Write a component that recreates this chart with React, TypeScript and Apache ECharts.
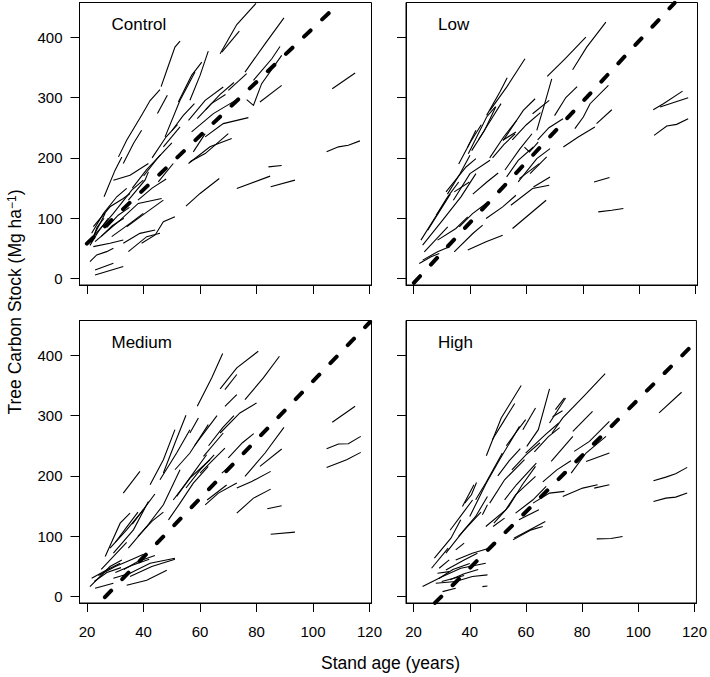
import React, { useEffect, useRef } from "react";
import * as echarts from "echarts";

const FONT = '"Liberation Sans", Arial, Helvetica, sans-serif';

const ageTicks = [20, 40, 60, 80, 100, 120];
const carbonTicks = [0, 100, 200, 300, 400];
const panelNames = ["Control", "Low", "Medium", "High"];
const xTitle = "Stand age (years)";

// each stand: [age (years), tree carbon stock (Mg ha-1)] re-measurements
const controlStands: number[][][] = [
  [[67.1, 372.5], [73.0, 421], [79.8, 456]],
  [[75.9, 342.2], [83.0, 389], [89.7, 432]],
  [[70.0, 311.9], [76.5, 339.5]],
  [[78.9, 328.5], [85.4, 364.3], [88.3, 384.7]],
  [[76.5, 296.5], [78.9, 287.1], [81.8, 323], [88.9, 369.8]],
  [[81.2, 292.6], [88.9, 320.2]],
  [[67.7, 375.3], [73.9, 410]],
  [[56.4, 295.4], [60.0, 336.7], [62.9, 377]],
  [[52.3, 292.6], [57.0, 336.7], [60.6, 358.8]],
  [[47.6, 234.8], [52.9, 295.4], [58.2, 342.2]],
  [[55.9, 262.3], [61.8, 295.4], [68.2, 317.4]],
  [[57.0, 243.1], [64.7, 273.4], [73.6, 298.2]],
  [[61.8, 234.8], [68.2, 256.8], [77.1, 266.7]],
  [[55.9, 190.7], [63.5, 218.3], [71.2, 232]],
  [[57.6, 210], [61.8, 240.3]],
  [[106.8, 314.7], [114.9, 340.6]],
  [[104.8, 210], [109.0, 218.3], [112.5, 221], [116.6, 228.2]],
  [[84.2, 185.2], [88.9, 187.4]],
  [[73.0, 149.4], [84.8, 169.8]],
  [[85.0, 152.1], [93.6, 163.2]],
  [[55.0, 120.2], [60.0, 141.1], [66.8, 165.9]],
  [[44.9, 273.4], [48.4, 303.7]],
  [[31.1, 201.7], [34.0, 229.3], [39.3, 270.6], [42.3, 295], [45.8, 313]],
  [[46.2, 318], [48.4, 347.7], [51.1, 383.6], [52.9, 393.5]],
  [[32.8, 190.7], [36.4, 223.8], [39.3, 245.8]],
  [[26.0, 135.6], [29.9, 179.7], [32.3, 201.7]],
  [[47.0, 218.3], [52.9, 251.3]],
  [[29.3, 163], [35.2, 171.4], [41.7, 190.7]],
  [[22.2, 86], [28.1, 119], [32.8, 132.8], [35.2, 141.1]],
  [[21.6, 75], [25.8, 108.1], [30.5, 135.6], [34.0, 149.4]],
  [[22.2, 69.5], [29.3, 108], [35.8, 146.6], [39.9, 163.2]],
  [[22.8, 61.2], [31.7, 97], [38.1, 124.6], [46.4, 132.8]],
  [[34.0, 86], [40.5, 108.1], [47.0, 130.1]],
  [[32.8, 58.5], [38.7, 75], [44.1, 80.5]],
  [[34.6, 44.7], [41.1, 69.5], [45.8, 75]],
  [[39.3, 58.5], [44.1, 72.3], [47.0, 94.3], [51.1, 102.5]],
  [[21.0, 28.2], [23.4, 39.2], [26.9, 44.7], [29.3, 50.2]],
  [[22.8, 14.4], [29.3, 25.4]],
  [[22.8, 6.1], [32.8, 19.9]],
  [[22.2, 53], [28.1, 58.5], [32.8, 63.9]],
  [[28.7, 69.5], [35.2, 91.5], [39.9, 108.1]],
  [[34.6, 130.1], [40.5, 163.2], [41.7, 176.9]],
  [[56.4, 193.5], [61.8, 207.2], [70.0, 240.3]],
  [[21.0, 55], [24.0, 78], [27.5, 100]],
  [[21.5, 60], [23.5, 85], [26.0, 100]],
  [[21.6, 64], [26.4, 108.1]],
  [[45.2, 160.4], [50.5, 190.7]],
  [[36.0, 150], [41.0, 180], [46.0, 205]],
  [[40.0, 170], [45.0, 200], [50.0, 225]],
  [[43.0, 200], [48.0, 235], [52.0, 255]],
  [[50.0, 245], [54.0, 270], [58.0, 290]],
  [[59.0, 265], [64.0, 290], [69.0, 305]],
  [[62.0, 280], [67.0, 305], [72.0, 325]],
  [[38.0, 130], [43.0, 150], [48.0, 165]],
  [[27.0, 85], [31.0, 105], [35.0, 118]],
  [[25.0, 70], [29.0, 88], [33.0, 100]],
];

const lowStands: number[][][] = [
  [[76.4, 346], [81.4, 383.5], [88.2, 424.9]],
  [[67.4, 335], [73.7, 364.2], [81.1, 400]],
  [[47.1, 278.7], [53.0, 317.3], [59.5, 364.2]],
  [[45.9, 270.5], [50.6, 309.1], [53.2, 332.8]],
  [[39.4, 207], [45.9, 267.8], [48.9, 284.3]],
  [[51.8, 229.1], [58.9, 278.7], [63.1, 298]],
  [[63.7, 245.7], [66.5, 290], [69.0, 331]],
  [[77.2, 248.4], [80.2, 267.7], [82.6, 289.8], [89.1, 320.1]],
  [[84.9, 256.7], [90.3, 279.8]],
  [[73.1, 218], [78.4, 234.6], [84.3, 251.2]],
  [[62.5, 151.9], [68.4, 168.5]],
  [[54.5, 121.6], [62.2, 149.2], [68.1, 154.7]],
  [[55.1, 83], [67.0, 129.9]],
  [[39.2, 47.2], [45.7, 61], [51.6, 72]],
  [[84.0, 160.2], [89.5, 167.4]],
  [[85.5, 110.6], [90.3, 113.3], [94.4, 116.1]],
  [[105.0, 279.8], [108.6, 289.8], [115.4, 310.7]],
  [[107.4, 284.3], [117.4, 299.7]],
  [[105.3, 237.4], [109.8, 252.8], [113.3, 255.6], [117.4, 264.9]],
  [[22.6, 63.7], [27.0, 96.8], [31.5, 129.9]],
  [[32.0, 140], [36.5, 174], [40.0, 204.3]],
  [[40.6, 212], [45.1, 245], [49.2, 285]],
  [[23.2, 55.4], [30.3, 96.8], [36.8, 135.4], [42.1, 174]],
  [[23.8, 44.4], [32.1, 85.7]],
  [[31.5, 143.7], [38.6, 185], [42.1, 198.8]],
  [[34.4, 143.7], [39.8, 160.2]],
  [[36.2, 85.7], [40.9, 107.8], [45.7, 124.4]],
  [[34.4, 44.4], [41.0, 74.7], [44.5, 88.5]],
  [[28.5, 63.7], [35.0, 83], [39.2, 102.3]],
  [[45.7, 99.5], [51.6, 118.9], [56.3, 138.1]],
  [[57.5, 165.7], [64.6, 190.5]],
  [[62.2, 273.2], [68.1, 295.3]],
  [[51.6, 229.1], [56.3, 242.9]],
  [[39.2, 218], [42.1, 245.7]],
  [[59.3, 218], [61.1, 209.8], [64.2, 226.3]],
  [[53.0, 168.5], [57.1, 196], [62.5, 218]],
  [[57.1, 160.2], [63.7, 198.8], [68.4, 215.3]],
  [[34.1, 129.9], [40.0, 174], [47.1, 196]],
  [[22.0, 25.1], [26.2, 36.1], [29.1, 41.6]],
  [[23.2, 30.6], [28.5, 44.4], [32.7, 52.7]],
  [[52.4, 180], [57.7, 215], [62.0, 240]],
  [[47.0, 200], [52.0, 235], [56.5, 262]],
  [[61.3, 174], [67.2, 201.7]],
  [[25.0, 80], [29.0, 110], [33.0, 140]],
  [[28.0, 105], [32.0, 135], [36.0, 160]],
  [[36.0, 190], [40.0, 225], [44.0, 255]],
  [[43.0, 230], [47.0, 260], [51.0, 290]],
  [[48.0, 200], [52.0, 222], [56.0, 240]],
  [[55.0, 230], [60.0, 255], [65.0, 275]],
  [[64.0, 230], [68.0, 250], [73.0, 265]],
  [[41.0, 140], [46.0, 160], [50.0, 175]],
  [[70.0, 270], [74.0, 300], [78.0, 318]],
];

const mediumStands: number[][][] = [
  [[59.0, 315.3], [64.1, 362.4], [68.0, 402.8]],
  [[67.1, 344.1], [73.0, 379], [80.6, 406.6]],
  [[68.8, 343], [73.0, 368]],
  [[75.9, 326.4], [82.4, 362.4], [88.1, 398.3]],
  [[68.8, 315.3], [73.0, 334.7]],
  [[67.1, 271.1], [74.1, 304.3], [80.0, 320.9]],
  [[75.9, 199.1], [83.0, 237.9], [89.7, 280.5]],
  [[81.2, 215.7], [88.9, 244.5]],
  [[73.0, 179.8], [78.3, 190.8], [85.0, 207.5]],
  [[73.0, 138.3], [78.9, 163.2], [85.0, 178.1]],
  [[83.8, 145.5], [88.9, 150.5]],
  [[85.0, 103.4], [93.6, 106.8]],
  [[106.8, 288.8], [114.9, 315.3]],
  [[104.8, 245], [109.0, 252.8], [112.5, 253.4], [116.9, 265.5]],
  [[104.8, 214.1], [111.9, 226.8], [116.9, 239]],
  [[47.0, 204.7], [51.1, 254.5], [55.0, 300.4]],
  [[42.3, 185.3], [47.0, 226.8], [51.1, 276.6]],
  [[56.4, 271.1], [59.4, 296]],
  [[51.1, 210.2], [56.4, 237.9], [62.9, 284.9]],
  [[51.7, 166], [57.6, 204.7], [62.3, 235.1]],
  [[61.8, 152.1], [66.5, 171.5], [73.0, 188.1]],
  [[32.8, 171.5], [38.7, 207.5]],
  [[26.4, 66.4], [31.7, 121.7], [35.2, 138.3]],
  [[28.1, 80.2], [34.0, 110.6], [39.9, 143.8]],
  [[45.8, 193.6], [51.7, 237.9], [56.4, 276.6]],
  [[29.3, 71.9], [36.4, 110.6], [41.7, 157.6]],
  [[34.6, 80.2], [41.1, 116.2], [47.0, 152.1], [52.9, 210.2]],
  [[48.8, 127.2], [52.9, 154.9], [57.6, 188.1], [62.9, 215.7]],
  [[50.5, 160], [56.4, 196.4], [63.5, 226.8]],
  [[62.5, 160], [69.4, 185]],
  [[21.6, 30.4], [26.9, 44.2], [31.7, 55.3]],
  [[22.8, 13.8], [29.3, 22.1]],
  [[34.0, 18.7], [41.1, 27], [48.2, 43.6]],
  [[35.2, 33.2], [42.9, 49.8], [51.1, 62]],
  [[21.0, 16.6], [28.1, 49.8], [32.3, 60.8]],
  [[29.3, 30.4], [35.2, 38.7], [42.3, 55.3], [51.1, 63.6]],
  [[22.5, 25], [27.0, 40], [32.0, 48]],
  [[24.0, 35], [30.0, 50], [36.0, 62], [40.0, 70]],
  [[30.0, 40], [36.0, 52], [42.0, 62]],
  [[33.0, 45], [38.0, 58], [44.0, 68]],
  [[61.2, 232.3], [68.2, 271.1]],
  [[60.0, 204.7], [64.7, 226.8], [68.8, 246.2]],
  [[67.7, 204.7], [71.8, 221.3]],
  [[30.0, 90], [34.0, 115], [38.0, 140]],
  [[36.0, 120], [40.0, 145], [44.0, 170]],
  [[38.0, 100], [43.0, 125], [47.0, 140]],
  [[55.0, 180], [60.0, 210], [65.0, 235]],
  [[58.0, 250], [62.0, 275], [66.0, 300]],
  [[63.0, 250], [68.0, 280], [72.0, 300]],
  [[70.0, 230], [75.0, 255], [79.0, 270]],
  [[25.0, 45], [30.0, 70], [34.0, 90]],
];

const highStands: number[][][] = [
  [[45.9, 233.5], [51.2, 296], [58.3, 349.7]],
  [[58.9, 276.6], [63.4, 312.6]],
  [[60.3, 249], [64.4, 276.6], [68.4, 344.1]],
  [[68.4, 287.7], [74.1, 329.2]],
  [[69.3, 271.1], [73.1, 296], [80.8, 333], [88.2, 369.6]],
  [[70.5, 309.8], [73.7, 329.2]],
  [[69.5, 298], [73.0, 308]],
  [[76.7, 273.8], [83.7, 307]],
  [[77.2, 240.6], [82.6, 257.2], [89.7, 290.4]],
  [[76.1, 204.7], [81.4, 237.9], [88.5, 265.5]],
  [[81.4, 224], [89.7, 237.9]],
  [[73.1, 166], [80.2, 179.8], [85.5, 185.3]],
  [[84.3, 179.8], [89.7, 185.3]],
  [[62.5, 154.9], [68.4, 171.5], [73.7, 174.3]],
  [[55.7, 96.8], [66.9, 124.4]],
  [[55.4, 94], [61.9, 110.6], [66.0, 116.2]],
  [[85.2, 95.7], [90.3, 96.2], [94.4, 99.6]],
  [[107.4, 304.3], [115.4, 338.6]],
  [[105.4, 192], [109.8, 198], [113.3, 203.6], [117.4, 214.1]],
  [[105.4, 157.7], [109.8, 163.2], [113.3, 164.9], [117.4, 171.5]],
  [[38.2, 154.9], [40.6, 168.7], [42.4, 189.2]],
  [[40.0, 132.8], [45.9, 188.1], [50.6, 226.8], [57.7, 282.1]],
  [[52.4, 160.4], [56.6, 185.3], [63.7, 221.3]],
  [[56.3, 138.3], [62.5, 160.4], [67.2, 182.5]],
  [[69.0, 224], [76.7, 265.5]],
  [[27.4, 63.6], [33.3, 96.8], [36.8, 127.2]],
  [[42.1, 160.4], [45.7, 188.1], [51.6, 237.9]],
  [[53.0, 250], [56.3, 271.1], [59.9, 293.2]],
  [[31.5, 71.9], [38.0, 110.6], [42.1, 132.8], [46.3, 166]],
  [[37.4, 149.4], [41.5, 185.3]],
  [[44.5, 135.5], [46.3, 152.1]],
  [[45.7, 116.2], [52.8, 143.8], [56.3, 168.7], [63.4, 199.1]],
  [[48.6, 121.7], [53.9, 149.4], [58.7, 185.3], [63.4, 215.7]],
  [[57.5, 127.2], [64.6, 143.8]],
  [[59.9, 237.9], [66.9, 268.3], [71.7, 287.7]],
  [[23.2, 16.6], [30.3, 33.2], [36.8, 47], [45.7, 55.3]],
  [[27.9, 22.1], [35.0, 24.9], [40.9, 33.2], [46.3, 36]],
  [[30.3, 8.3], [35.0, 13.8]],
  [[28.5, 38.7], [32.7, 41.4]],
  [[35.0, 60.8], [40.9, 71.9], [46.9, 80.2]],
  [[31.5, 44.2], [38.0, 60.8], [42.7, 71.9]],
  [[44.5, 16.6], [46.3, 17.7]],
  [[35.0, 77.4], [38.0, 88.5]],
  [[29.1, 47], [32.7, 60.8]],
  [[30.0, 25], [34.0, 30], [38.0, 35]],
  [[33.0, 28], [38.0, 38], [43.0, 45]],
  [[26.4, 47], [32.3, 80.2]],
  [[47.1, 154.9], [52.4, 193.6], [59.5, 226.8]],
  [[48.3, 116.2], [52.4, 130]],
  [[33.0, 110], [37.0, 135], [41.0, 160]],
  [[36.0, 100], [40.0, 120], [44.0, 140]],
  [[50.0, 200], [54.0, 225], [58.0, 245]],
  [[55.0, 210], [60.0, 235], [65.0, 255]],
  [[63.0, 240], [68.0, 265], [72.0, 280]],
  [[66.0, 190], [71.0, 210], [76.0, 225]],
  [[48.0, 260], [52.0, 290], [56.0, 320]],
  [[29.0, 30], [34.0, 45], [40.0, 55]],
];

// fitted mean trajectories (dashed)
const controlFit = [[19.9, 58], [109.4, 457]];
const lowFit = [[20.1, -7], [112.6, 457]];
const mediumFit = [[26.3, -1], [120.2, 455]];
const highFit = [[27.6, -10.5], [120.1, 420.6]];

export default function App() {
  const ref = useRef<HTMLDivElement>(null);

  useEffect(() => {
    const chart = echarts.init(ref.current as HTMLDivElement, null, { renderer: "svg" });
    const stands = [controlStands, lowStands, mediumStands, highStands];
    const fits = [controlFit, lowFit, mediumFit, highFit];
    const grids = [
      { left: 79.5, top: 2.5, width: 292, height: 282.5 },
      { left: 406, top: 2.5, width: 291.5, height: 282.5 },
      { left: 79.5, top: 320.5, width: 292, height: 282.5 },
      { left: 406, top: 320.5, width: 291.5, height: 282.5 },
    ];

    const series: any[] = [];
    stands.forEach((s, i) => {
      series.push({
        type: "lines",
        coordinateSystem: "cartesian2d",
        xAxisIndex: i,
        yAxisIndex: i,
        polyline: true,
        silent: true,
        lineStyle: { color: "#000", width: 1.1, opacity: 1 },
        data: s.map((c) => ({ coords: c })),
      });
      series.push({
        type: "line",
        xAxisIndex: i,
        yAxisIndex: i,
        data: fits[i],
        symbol: "none",
        showSymbol: false,
        silent: true,
        clip: true,
        lineStyle: { color: "#000", width: 4, type: [9, 16], cap: "round" },
      });
    });

    const textStyle = (extra: any) => ({
      fill: "#000",
      fontFamily: FONT,
      ...extra,
    });

    chart.setOption({
      animation: false,
      backgroundColor: "#fff",
      grid: grids.map((g) => ({
        ...g,
        show: true,
        borderColor: "#000",
        borderWidth: 1,
        backgroundColor: "transparent",
      })),
      xAxis: grids.map((_, i) => ({
        type: "value",
        gridIndex: i,
        min: 17.3,
        max: 120.7,
        axisLine: { show: true, onZero: false, lineStyle: { color: "#000", width: 1 } },
        axisTick: { show: true, customValues: ageTicks, length: 9, inside: false, lineStyle: { color: "#000", width: 1 } },
        axisLabel: {
          show: i >= 2,
          customValues: ageTicks,
          margin: 21,
          fontSize: 15,
          color: "#000",
          fontFamily: FONT,
        },
        splitLine: { show: false },
      })),
      yAxis: grids.map((_, i) => ({
        type: "value",
        gridIndex: i,
        min: -10.6,
        max: 457.5,
        axisLine: { show: true, onZero: false, lineStyle: { color: "#000", width: 1 } },
        axisTick: { show: true, customValues: carbonTicks, length: 9, inside: false, lineStyle: { color: "#000", width: 1 } },
        axisLabel: {
          show: i % 2 === 0,
          customValues: carbonTicks,
          margin: 17,
          fontSize: 15,
          color: "#000",
          fontFamily: FONT,
        },
        splitLine: { show: false },
      })),
      series,
      graphic: [
        ...panelNames.map((name, i) => ({
          type: "text",
          x: grids[i].left + 32,
          y: grids[i].top + 22,
          silent: true,
          style: textStyle({
            text: name,
            fontSize: 17,
            textAlign: "left",
            align: "left",
            textVerticalAlign: "middle",
            verticalAlign: "middle",
          }),
        })),
        {
          type: "text",
          x: 390.5,
          y: 663,
          silent: true,
          style: textStyle({
            text: xTitle,
            fontSize: 17.5,
            textAlign: "center",
            align: "center",
            textVerticalAlign: "middle",
            verticalAlign: "middle",
          }),
        },
        {
          type: "text",
          x: 15,
          y: 302,
          rotation: Math.PI / 2,
          silent: true,
          style: textStyle({
            text: "Tree Carbon Stock (Mg ha{sup|\u22121})",
            fontSize: 17.5,
            textAlign: "center",
            align: "center",
            textVerticalAlign: "middle",
            verticalAlign: "middle",
            rich: {
              sup: { fontSize: 12, fontFamily: FONT, fill: "#000", verticalAlign: "top", padding: [0, 0, 6, 0] },
            },
          }),
        },
      ],
    });

    return () => {
      chart.dispose();
    };
  }, []);

  return (
    <div
      ref={ref}
      style={{ position: "fixed", left: 0, top: 0, width: 710, height: 677, background: "#fff" }}
    />
  );
}
